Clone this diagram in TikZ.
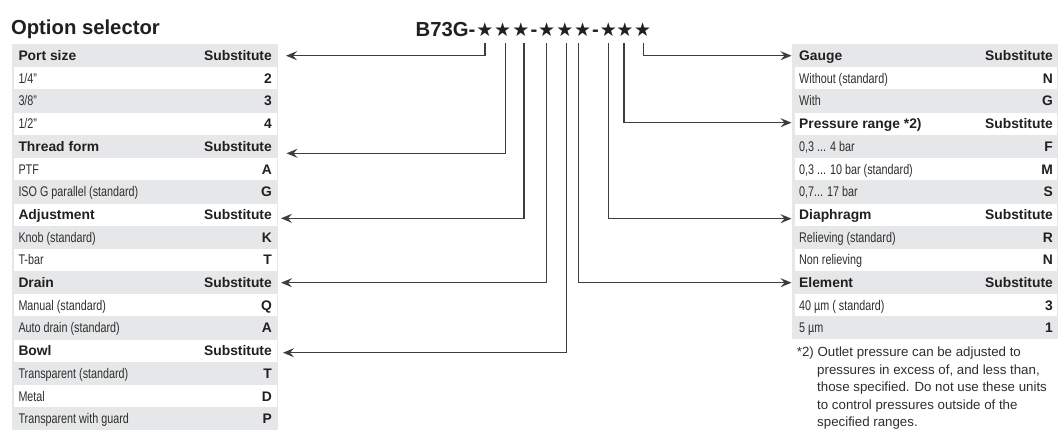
\documentclass[tikz,border=0pt]{standalone}
\usepackage{fontspec}
\setmainfont{Liberation Sans}
\newfontfamily\condfont[FakeStretch=0.77]{Liberation Sans}
\newfontfamily\starfont{DejaVu Sans}
\usetikzlibrary{arrows.meta}
\definecolor{tgray}{HTML}{E6E7E8}
\definecolor{ink}{HTML}{231F20}
\definecolor{soft}{HTML}{2E2E2E}
\definecolor{lc}{HTML}{3D3D3D}
\newcommand\trow[7]{%
  \pgfmathsetmacro\yb{44.3+22.7*(#3+0.5)+4.9}%
  \node[#5] (#4) at (#1,\yb) {#6};
  \node[val] (#4v) at (#2,\yb) {#7};
}
\begin{document}
\begin{tikzpicture}[x=1pt,y=-1pt,
  lab/.style={anchor=base west,inner sep=0,text=soft,font=\condfont\fontsize{14}{16}\selectfont},
  hd/.style={anchor=base west,inner sep=0,text=ink,font=\bfseries\fontsize{13.85}{16}\selectfont},
  val/.style={anchor=base east,inner sep=0,text=ink,font=\bfseries\fontsize{13.85}{16}\selectfont},
  big/.style={anchor=base west,inner sep=0,text=ink,font=\bfseries\fontsize{20.3}{24}\selectfont},
  stargl/.style={inner sep=0,text=ink,font=\starfont\fontsize{19}{20}\selectfont},
  dashgl/.style={anchor=base,inner sep=0,text=ink,font=\bfseries\fontsize{20.3}{24}\selectfont},
  fn/.style={anchor=base west,inner sep=0,text=soft,font=\fontsize{13.3}{16}\selectfont},
  conn/.style={draw=lc,line width=1.3pt,-{Stealth[length=11pt,width=9pt,inset=4pt]}}]
\useasboundingbox (0,0) rectangle (1058,434);
% table backgrounds
\fill[tgray] (11.7,44.3) rectangle (278,430.2);
\foreach \i in {1,3,...,15}
  \fill[white] (14,{44.3+22.7*\i+0.3}) rectangle (276.7,{44.3+22.7*(\i+1)-0.3});
\fill[tgray] (792.3,44.3) rectangle (1058,339.4);
\foreach \i in {1,3,...,11}
  \fill[white] (795,{44.3+22.7*\i+0.3}) rectangle (1056.5,{44.3+22.7*(\i+1)-0.3});
% title and code
\node[big] (title) at (10.8,34.5) {Option selector};
\node[big] (code) at (415.5,36) {B73G-};
\node[stargl] (s1) at (485,30) {★};
\node[stargl] (s2) at (502.7,30) {★};
\node[stargl] (s3) at (521,30) {★};
\node[dashgl] (d1) at (534,36) {-};
\node[stargl] (s4) at (546.7,30) {★};
\node[stargl] (s5) at (565,30) {★};
\node[stargl] (s6) at (582.7,30) {★};
\node[dashgl] (d2) at (595.5,36) {-};
\node[stargl] (s7) at (608.3,30) {★};
\node[stargl] (s8) at (625,30) {★};
\node[stargl] (s9) at (642.7,30) {★};
% left table
\trow{18.3}{272}{0}{L0}{hd}{Port size}{Substitute}
\trow{18.3}{272}{1}{L1}{lab}{1/4”}{2}
\trow{18.3}{272}{2}{L2}{lab}{3/8”}{3}
\trow{18.3}{272}{3}{L3}{lab}{1/2”}{4}
\trow{18.3}{272}{4}{L4}{hd}{Thread form}{Substitute}
\trow{18.3}{272}{5}{L5}{lab}{PTF}{A}
\trow{18.3}{272}{6}{L6}{lab}{ISO G parallel (standard)}{G}
\trow{18.3}{272}{7}{L7}{hd}{Adjustment}{Substitute}
\trow{18.3}{272}{8}{L8}{lab}{Knob (standard)}{K}
\trow{18.3}{272}{9}{L9}{lab}{T-bar}{T}
\trow{18.3}{272}{10}{L10}{hd}{Drain}{Substitute}
\trow{18.3}{272}{11}{L11}{lab}{Manual (standard)}{Q}
\trow{18.3}{272}{12}{L12}{lab}{Auto drain (standard)}{A}
\trow{18.3}{272}{13}{L13}{hd}{Bowl}{Substitute}
\trow{18.3}{272}{14}{L14}{lab}{Transparent (standard)}{T}
\trow{18.3}{272}{15}{L15}{lab}{Metal}{D}
\trow{18.3}{272}{16}{L16}{lab}{Transparent with guard}{P}
% right table
\trow{799}{1053}{0}{R0}{hd}{Gauge}{Substitute}
\trow{799}{1053}{1}{R1}{lab}{Without (standard)}{N}
\trow{799}{1053}{2}{R2}{lab}{With}{G}
\trow{799}{1053}{3}{R3}{hd}{Pressure range *2)}{Substitute}
\trow{799}{1053}{4}{R4}{lab}{0,3 ... 4 bar}{F}
\trow{799}{1053}{5}{R5}{lab}{0,3 ... 10 bar (standard)}{M}
\trow{799}{1053}{6}{R6}{lab}{0,7... 17 bar}{S}
\trow{799}{1053}{7}{R7}{hd}{Diaphragm}{Substitute}
\trow{799}{1053}{8}{R8}{lab}{Relieving (standard)}{R}
\trow{799}{1053}{9}{R9}{lab}{Non relieving}{N}
\trow{799}{1053}{10}{R10}{hd}{Element}{Substitute}
\trow{799}{1053}{11}{R11}{lab}{40 µm ( standard)}{3}
\trow{799}{1053}{12}{R12}{lab}{5 µm}{1}
% footnote
\node[fn] (f1) at (796.7,356.5) {*2) Outlet pressure can be adjusted to};
\node[fn] (f2) at (817,374) {pressures in excess of, and less than,};
\node[fn] (f3) at (817,391.5) {those specified. Do not use these units};
\node[fn] (f4) at (817,409) {to control pressures outside of the};
\node[fn] (f5) at (817,426.5) {specified ranges.};
% arrow tips
\coordinate (a1) at (286,55.7);
\coordinate (a2) at (286.5,153.3);
\coordinate (a3) at (281,218.3);
\coordinate (a4) at (281,282.7);
\coordinate (a5) at (283,352.7);
\coordinate (a6) at (791.5,282.7);
\coordinate (a7) at (791.5,218.7);
\coordinate (a8) at (791.5,122.7);
\coordinate (a9) at (791.5,55.7);
% connectors start just below the stars
\draw[conn] ([yshift=-6pt]s1.south) |- (a1);
\draw[conn] ([xshift=3pt,yshift=-6pt]s2.south) |- (a2);
\draw[conn] ([xshift=3pt,yshift=-6pt]s3.south) |- (a3);
\draw[conn] ([yshift=-6pt]s4.south) |- (a4);
\draw[conn] ([xshift=1.7pt,yshift=-6pt]s5.south) |- (a5);
\draw[conn] ([xshift=-4.4pt,yshift=-6pt]s6.south) |- (a6);
\draw[conn] ([yshift=-6pt]s7.south) |- (a7);
\draw[conn] ([xshift=-1pt,yshift=-6pt]s8.south) |- (a8);
\draw[conn] ([xshift=0.6pt,yshift=-6pt]s9.south) |- (a9);
\end{tikzpicture}
\end{document}
